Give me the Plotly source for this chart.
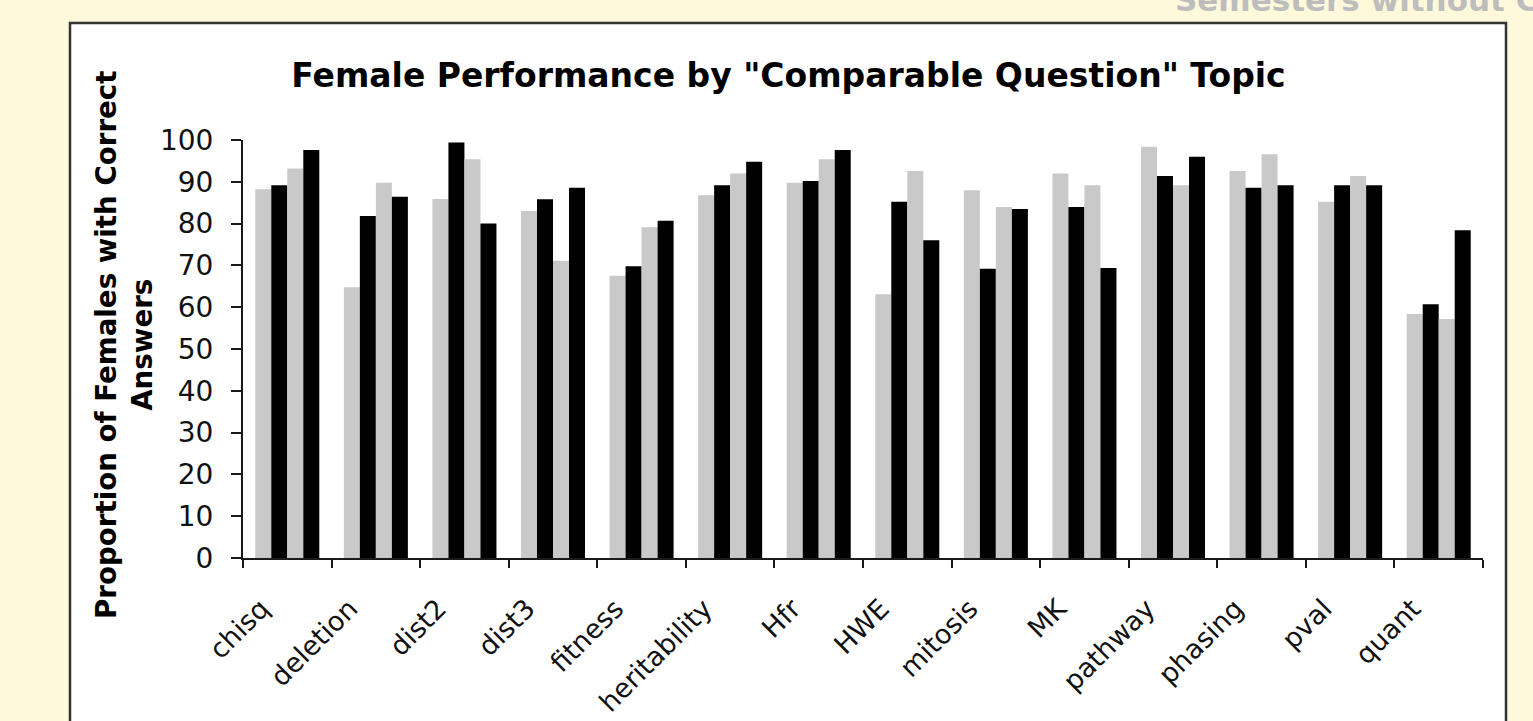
import plotly.graph_objects as go

# Topics and per-semester proportions of correct female answers
topics = ["chisq", "deletion", "dist2", "dist3", "fitness", "heritability", "Hfr",
          "HWE", "mitosis", "MK", "pathway", "phasing", "pval", "quant"]
sem_1 = [88.2, 64.8, 85.9, 83.0, 67.5, 86.8, 89.8, 63.1, 88.0, 92.0, 98.4, 92.6, 85.2, 58.4]
sem_2 = [89.2, 81.8, 99.4, 85.8, 69.8, 89.2, 90.2, 85.2, 69.2, 84.0, 91.4, 88.6, 89.2, 60.7]
sem_3 = [93.2, 89.8, 95.4, 71.1, 79.1, 92.0, 95.4, 92.6, 84.0, 89.2, 89.2, 96.6, 91.4, 57.2]
sem_4 = [97.6, 86.4, 80.0, 88.6, 80.7, 94.8, 97.6, 76.0, 83.5, 69.4, 96.0, 89.2, 89.2, 78.4]
y_ticks = list(range(0, 101, 10))

W, H = 1533, 721
L, R, T, B = 243, 1483, 140, 558  # plot area in pixels

def px_x(p):
    return (p - L) / (R - L)

def px_y(p):
    return (B - p) / (B - T)

FONT = "DejaVu Sans"
GRAY = "#c9c9c9"
BLACK = "#000000"

fig = go.Figure()
for name, vals, col in [("Semester 1", sem_1, GRAY), ("Semester 2", sem_2, BLACK),
                        ("Semester 3", sem_3, GRAY), ("Semester 4", sem_4, BLACK)]:
    fig.add_trace(go.Bar(x=topics, y=vals, name=name, marker=dict(color=col, line=dict(width=0))))

fig.update_layout(
    width=W, height=H,
    margin=dict(l=L, r=W - R, t=T, b=H - B, autoexpand=False),
    paper_bgcolor="#fff9dc",
    plot_bgcolor="#ffffff",
    barmode="group",
    bargap=0.277,
    bargroupgap=0,
    showlegend=False,
    font=dict(family=FONT, color="#000"),
    title=dict(
        text='<b>Female Performance by "Comparable Question" Topic</b>',
        x=788.5 / W, xanchor="center",
        y=1 - 75 / H, yanchor="middle",
        font=dict(family=FONT, size=33, color="#000"),
    ),
)

fig.update_xaxes(
    type="category",
    showgrid=False, zeroline=False,
    showline=True, linecolor="#1a1a1a", linewidth=2,
    ticks="outside", tickson="boundaries", ticklen=8, tickwidth=2, tickcolor="#1a1a1a",
    tickangle=-45,
    tickfont=dict(family=FONT, size=27, color="#111"),
    ticklabelshift=-26,
    ticklabelstandoff=22,
)
fig.update_yaxes(
    range=[0, 100],
    tickvals=y_ticks,
    showgrid=False, zeroline=False,
    showline=True, linecolor="#1a1a1a", linewidth=2,
    ticks="outside", ticklen=10, tickwidth=2, tickcolor="#1a1a1a",
    tickfont=dict(family=FONT, size=28, color="#111"),
    ticklabelstandoff=12,
)

# White chart panel with dark border
fig.add_shape(
    type="rect", xref="paper", yref="paper", layer="below",
    x0=px_x(70), x1=px_x(1506), y0=px_y(740), y1=px_y(23),
    fillcolor="#ffffff", line=dict(color="#333333", width=2.5),
)

# Y axis title (two lines, rotated)
fig.add_annotation(
    xref="paper", yref="paper",
    x=px_x(124), y=px_y(345), xanchor="center", yanchor="middle",
    text="<b>Proportion of Females with Correct<br>Answers</b>",
    textangle=-90, showarrow=False,
    font=dict(family=FONT, size=27.7, color="#000"),
)

# Slide heading at the top edge
fig.add_annotation(
    xref="paper", yref="paper",
    x=px_x(1173), y=px_y(20), xanchor="left", yanchor="bottom",
    text="<b>Semesters without C</b>", showarrow=False,
    font=dict(family=FONT, size=31, color="#bdbdbd"),
)

fig.write_html("out.html")
